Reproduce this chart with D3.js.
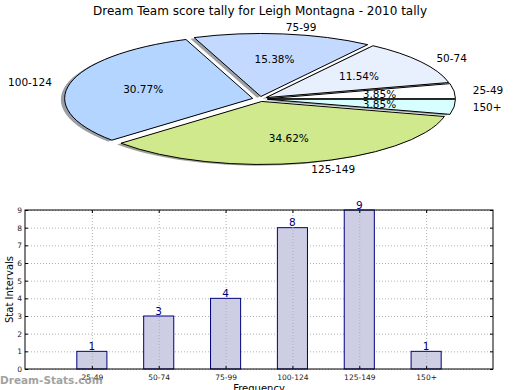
<!DOCTYPE html>
<html>
<head>
<meta charset="utf-8">
<script src="https://cdn.jsdelivr.net/npm/d3@7"></script>
<style>
body { margin: 0; background: #fff; }
text { font-family: "DejaVu Sans", sans-serif; }
</style>
</head>
<body>
<div id="chart"></div>
<script>
// chart data
var categories = ["25-49", "50-74", "75-99", "100-124", "125-149", "150+"];
var counts = [1, 3, 4, 8, 9, 1];
var pieColors = ["#ffffff", "#e8f0fe", "#c3d9ff", "#b3d5ff", "#cfe98c", "#d8ffff"];
var explode = [0.04, 0.04, 0.04, 0.04, 0.04, 0.04];
var yTicks = [0, 1, 2, 3, 4, 5, 6, 7, 8, 9];
var title = "Dream Team score tally for Leigh Montagna - 2010 tally";

var svg = d3.select("#chart").append("svg")
  .attr("width", 520)
  .attr("height", 390);

svg.append("rect").attr("width", 520).attr("height", 390).attr("fill", "#fff");

svg.append("text")
  .attr("x", 260).attr("y", 14.5)
  .attr("text-anchor", "middle")
  .style("font-size", "12px")
  .text(title);

// ---- pie (elliptical, like matplotlib without equal aspect)
var cx = 260, cy = 99, rx = 188, ry = 63;
var px = d3.scaleLinear().domain([-1, 1]).range([cx - rx, cx + rx]);
var py = d3.scaleLinear().domain([-1, 1]).range([cy + ry, cy - ry]);

var total = d3.sum(counts);
var pie = d3.pie().sort(null)
  .startAngle(Math.PI / 2)
  .endAngle(Math.PI / 2 - 2 * Math.PI);
var arcs = pie(counts);
var arc = d3.arc().innerRadius(0).outerRadius(1);

arcs.forEach(function(d, i) {
  var m = (d.startAngle + d.endAngle) / 2;
  d.ux = Math.sin(m);
  d.uy = Math.cos(m);
  d.e = explode[i];
});

var pieG = svg.append("g");

// shadows first
pieG.selectAll(".shadow")
  .data(arcs)
  .enter()
  .append("path")
  .attr("class", "shadow")
  .attr("transform", function(d) {
    return "translate(" + px(d.e * d.ux - 0.02) + "," + py(d.e * d.uy - 0.02) + ") scale(" + rx + "," + ry + ")";
  })
  .attr("d", arc)
  .attr("fill", function(d, i) {
    var c = d3.rgb(pieColors[i]);
    return d3.rgb(c.r * 0.3, c.g * 0.3, c.b * 0.3);
  })
  .attr("opacity", 0.5);

pieG.selectAll(".wedge")
  .data(arcs)
  .enter()
  .append("path")
  .attr("class", "wedge")
  .attr("transform", function(d) {
    return "translate(" + px(d.e * d.ux) + "," + py(d.e * d.uy) + ") scale(" + rx + "," + ry + ")";
  })
  .attr("d", arc)
  .attr("fill", function(d, i) { return pieColors[i]; })
  .attr("stroke", "#000")
  .attr("stroke-width", 1)
  .attr("vector-effect", "non-scaling-stroke");

// category labels
pieG.selectAll(".plabel")
  .data(arcs)
  .enter()
  .append("text")
  .attr("x", function(d) { return px((1.1 + d.e) * d.ux); })
  .attr("y", function(d) { return py((1.1 + d.e) * d.uy); })
  .attr("dy", "0.36em")
  .attr("text-anchor", function(d) { return d.ux > 0 ? "start" : "end"; })
  .style("font-size", "10.5px")
  .text(function(d, i) { return categories[i]; });

// percentages
pieG.selectAll(".pct")
  .data(arcs)
  .enter()
  .append("text")
  .attr("x", function(d) { return px((0.6 + d.e) * d.ux); })
  .attr("y", function(d) { return py((0.6 + d.e) * d.uy); })
  .attr("dy", "0.36em")
  .attr("text-anchor", "middle")
  .style("font-size", "10.5px")
  .text(function(d) { return (d.value / total * 100).toFixed(2) + "%"; });

// ---- bar chart
var plotLeft = 25, plotRight = 493, plotTop = 210, plotBottom = 369;
var x = d3.scaleLinear().domain([0, categories.length + 1]).range([plotLeft, plotRight]);
var y = d3.scaleLinear().domain([0, 9]).range([plotBottom, plotTop]);
var barW = x(0.45) - x(0);

var gridStyle = function(g) {
  g.select(".domain").remove();
  g.selectAll("line").attr("stroke", "#b0b0b0").attr("stroke-dasharray", "1,2");
  g.selectAll("text").remove();
};

// horizontal grid (behind bars)
svg.append("g")
  .attr("transform", "translate(" + plotLeft + ",0)")
  .call(d3.axisLeft(y).tickValues(yTicks).tickSize(-(plotRight - plotLeft)).tickFormat(""))
  .call(gridStyle);

svg.selectAll(".bar")
  .data(counts)
  .enter()
  .append("rect")
  .attr("class", "bar")
  .attr("x", function(d, i) { return x(i + 1) - barW / 2; })
  .attr("width", barW)
  .attr("y", function(d) { return y(d); })
  .attr("height", function(d) { return plotBottom - y(d); })
  .attr("fill", "#cdcde4")
  .attr("stroke", "#000080")
  .attr("stroke-width", 1);

// vertical grid (over bars)
svg.append("g")
  .attr("transform", "translate(0," + plotBottom + ")")
  .call(d3.axisBottom(x).tickValues(d3.range(1, categories.length + 1)).tickSize(-(plotBottom - plotTop)).tickFormat(""))
  .call(gridStyle);

// value labels
svg.selectAll(".val")
  .data(counts)
  .enter()
  .append("text")
  .attr("x", function(d, i) { return x(i + 1); })
  .attr("y", function(d) { return y(d) - 1.5; })
  .attr("text-anchor", "middle")
  .attr("fill", "#000080")
  .style("font-size", "10.5px")
  .text(function(d) { return d; });

// axes
var xAxis = svg.append("g")
  .attr("transform", "translate(0," + plotBottom + ")")
  .call(d3.axisBottom(x).tickValues(d3.range(1, categories.length + 1))
    .tickFormat(function(d) { return categories[d - 1]; })
    .tickSizeInner(-3).tickSizeOuter(0).tickPadding(6));
xAxis.select(".domain").remove();
xAxis.selectAll("text").style("font-size", "7.5px").attr("fill", "#222");

var yAxis = svg.append("g")
  .attr("transform", "translate(" + plotLeft + ",0)")
  .call(d3.axisLeft(y).tickValues(yTicks).tickSizeInner(-3).tickSizeOuter(0).tickPadding(3));
yAxis.select(".domain").remove();
yAxis.selectAll("text").style("font-size", "7.5px").attr("fill", "#222");

var yRight = svg.append("g")
  .attr("transform", "translate(" + plotRight + ",0)")
  .call(d3.axisRight(y).tickValues(yTicks).tickSizeInner(-3).tickSizeOuter(0).tickFormat(""));
yRight.select(".domain").remove();

var xTop = svg.append("g")
  .attr("transform", "translate(0," + plotTop + ")")
  .call(d3.axisTop(x).tickValues(d3.range(1, categories.length + 1)).tickSizeInner(-3).tickSizeOuter(0).tickFormat(""));
xTop.select(".domain").remove();

svg.append("rect")
  .attr("x", plotLeft).attr("y", plotTop)
  .attr("width", plotRight - plotLeft).attr("height", plotBottom - plotTop)
  .attr("fill", "none")
  .attr("stroke", "#000")
  .attr("stroke-width", 1);

svg.append("text")
  .attr("transform", "translate(13," + ((plotTop + plotBottom) / 2) + ") rotate(-90)")
  .attr("text-anchor", "middle")
  .style("font-size", "10px")
  .text("Stat Intervals");

svg.append("text")
  .attr("x", (plotLeft + plotRight) / 2).attr("y", 392)
  .attr("text-anchor", "middle")
  .style("font-size", "10px")
  .text("Frequency");

// watermark
svg.append("text")
  .attr("x", 0).attr("y", 384)
  .attr("fill", "#8c8c8c")
  .attr("opacity", 0.8)
  .style("font-size", "10.5px")
  .style("font-weight", "bold")
  .text("Dream-Stats.com");
</script>
</body>
</html>
